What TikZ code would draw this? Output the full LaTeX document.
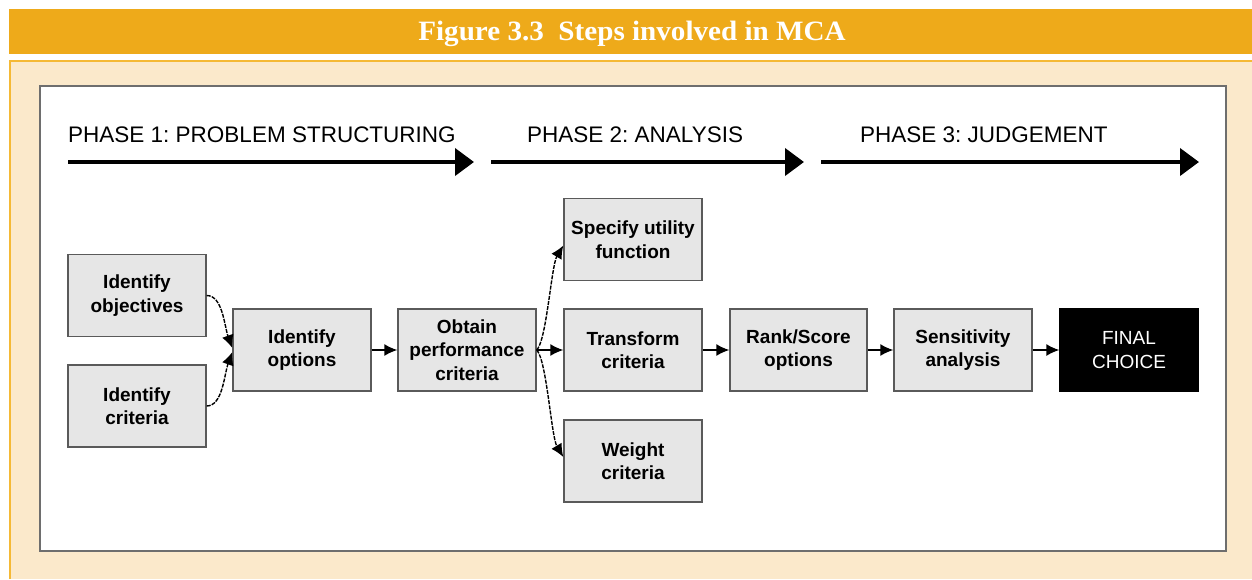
\documentclass[tikz,border=0pt]{standalone}
\usepackage{fontspec}
\setmainfont{Liberation Sans}
\newfontfamily\titlefont{Liberation Serif}
\usetikzlibrary{arrows.meta,calc}
\definecolor{barorange}{HTML}{EEAA1A}
\definecolor{cream}{HTML}{FBE9CB}
\definecolor{creamedge}{HTML}{F5B935}
\definecolor{boxfill}{HTML}{E6E6E6}
\definecolor{boxedge}{HTML}{5A5A5A}
\definecolor{frameedge}{HTML}{6E6E6E}
\begin{document}
\frenchspacing
\begin{tikzpicture}[x=1pt,y=-1pt,
  stepbox/.style={draw=boxedge,line width=1.4pt,fill=boxfill,rectangle,
    minimum width=138pt,minimum height=82pt,inner sep=0pt,align=center,
    font=\fontsize{19}{23.5}\selectfont\bfseries},
  finalbox/.style={stepbox,fill=black,draw=black,text=white,
    font=\fontsize{19}{23.5}\selectfont},
  conn/.style={line width=1.4pt,-{Latex[length=13pt,width=12pt]}},
  curvy/.style={conn,dash pattern=on 4pt off 1.2pt},
  phasearrow/.style={line width=4pt,-{Triangle[length=19pt,width=27pt]}},
  phaselabel/.style={anchor=base west,inner sep=0pt,font=\fontsize{22.5}{26}\selectfont}
]
\useasboundingbox (0,0) rectangle (1252,579);
% title bar
\fill[barorange] (9,9) rectangle (1252,54);
\node[text=white,inner sep=0pt,anchor=base] (title) at (632,40)
  {\scalebox{1.04}[1]{\titlefont\fontsize{28}{32}\selectfont\bfseries Figure 3.3\ \ Steps involved in MCA}};
% cream panel
\fill[cream] (9,60) rectangle (1252,579);
\draw[creamedge,line width=2pt] (10,579) -- (10,61) -- (1252,61);
% white frame
\draw[frameedge,line width=1.5pt,fill=white] (40,86) rectangle (1226,551);

% phase arrows
\coordinate (p1s) at (68,162);   \coordinate (p1e) at (474,162);
\coordinate (p2s) at (491,162);  \coordinate (p2e) at (804,162);
\coordinate (p3s) at (821,162);  \coordinate (p3e) at (1199,162);
\draw[phasearrow] (p1s) -- (p1e);
\draw[phasearrow] (p2s) -- (p2e);
\draw[phasearrow] (p3s) -- (p3e);
\node[phaselabel] (ph1) at (68,142) {PHASE 1: PROBLEM STRUCTURING};
\node[phaselabel] (ph2) at (527,142) {PHASE 2: ANALYSIS};
\node[phaselabel] (ph3) at (860,142) {PHASE 3: JUDGEMENT};

% boxes
\node[stepbox] (obj) at (137,295.5) {Identify\\objectives};
\node[stepbox] (crit) at (137,406) {Identify\\criteria};
\node[stepbox] (opt) at (302,350) {Identify\\options};
\node[stepbox] (obt) at (467,350) {Obtain\\performance\\criteria};
\node[stepbox] (spec) at (633,239.5) {Specify utility\\function};
\node[stepbox] (trans) at (633,350) {Transform\\criteria};
\node[stepbox] (weight) at (633,461) {Weight\\criteria};
\node[stepbox,minimum width=137pt] (rank) at (798.5,350) {Rank/Score\\options};
\node[stepbox] (sens) at (963,350) {Sensitivity\\analysis};
\node[finalbox] (final) at (1129,350) {FINAL\\CHOICE};

% connectors
\draw[curvy] (obj.east) .. controls +(16,0) and +(-8,-22) .. ($(opt.west)+(0,-2)$);
\draw[curvy] (crit.east) .. controls +(16,0) and +(-8,22) .. ($(opt.west)+(0,2)$);
\draw[conn] (opt) -- (obt);
\draw[curvy] (obt.east) .. controls +(10,-10) and +(-12,20) .. ($(spec.west)+(0,6)$);
\draw[conn] (obt) -- (trans);
\draw[curvy] (obt.east) .. controls +(10,10) and +(-12,-20) .. ($(weight.west)+(0,-4)$);
\draw[conn] (trans) -- (rank);
\draw[conn] (rank) -- (sens);
\draw[conn] (sens) -- (final);
\end{tikzpicture}
\end{document}
